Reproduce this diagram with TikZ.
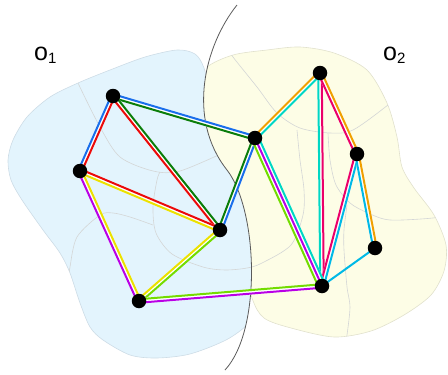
\documentclass[tikz,border=0pt]{standalone}
\usepackage{fontspec}
\setmainfont{Liberation Sans}
\usepackage{tikz}
\usetikzlibrary{calc}

\definecolor{eblue}{RGB}{25,110,235}
\definecolor{ered}{RGB}{235,10,10}
\definecolor{egreen}{RGB}{10,125,10}
\definecolor{eyellow}{RGB}{235,225,0}
\definecolor{eviolet}{RGB}{185,0,230}
\definecolor{elime}{RGB}{115,220,0}
\definecolor{eorange}{RGB}{240,160,0}
\definecolor{eturq}{RGB}{0,215,195}
\definecolor{ecrimson}{RGB}{235,0,105}
\definecolor{ecyan}{RGB}{0,185,230}
\definecolor{skyfill}{RGB}{227,244,253}
\definecolor{skyedge}{RGB}{205,220,230}
\definecolor{creamfill}{RGB}{253,253,230}
\definecolor{creamedge}{RGB}{225,225,205}
\definecolor{cellgrey}{RGB}{212,214,214}
\definecolor{divgrey}{RGB}{90,90,90}

\pgfdeclarelayer{back}
\pgfdeclarelayer{wires}
\pgfsetlayers{back,wires,main}

\tikzstyle{dot} = [circle, fill=black, inner sep=0pt, minimum size=14.5pt]
\tikzstyle{line} = [draw, line width=2pt]
\tikzstyle{gap} = [draw=white, line width=5.5pt]
\tikzstyle{cell} = [draw=cellgrey, line width=0.6pt]
\tikzstyle{divider} = [draw=divgrey, line width=0.8pt]
\tikzstyle{lbl} = [inner sep=0pt, anchor=base west, font=\fontsize{25}{30}\selectfont]
\tikzset{
  lside/.style={to path={($(\tikztostart)!#1!90:(\tikztotarget)$) -- ($(\tikztotarget)!#1!-90:(\tikztostart)$)}},
  rside/.style={to path={($(\tikztostart)!#1!-90:(\tikztotarget)$) -- ($(\tikztotarget)!#1!90:(\tikztostart)$)}},
  lside/.default=1.75pt, rside/.default=1.75pt
}

\begin{document}
\begin{tikzpicture}[x=1pt, y=-1pt]
    \useasboundingbox (0,0) rectangle (448,375);

    % the two objects
    \begin{pgfonlayer}{back}
        \begin{scope}[fill=skyfill, draw=skyedge, line width=0.6pt]
            \clip (237,5) .. controls (205,45) and (186,118) .. (227,170) .. controls (258,210) and (262,330) .. (225,370) -- (-5,380) -- (-5,-5) -- (237,-5) -- cycle;
            \path [fill, draw, clip] plot [smooth cycle] coordinates {(8,160) (13,140) (27,117) (50,97) (78,83) (110,70) (145,57) (177,50) (195,54) (204,68) (212,100) (235,150) (258,205) (265,265) (260,305) (248,324) (226,340) (190,354) (157,358) (130,355) (103,340) (90,327) (80,303) (70,273) (60,253) (43,230) (22,200) (11,180)};
            \path [cell] plot [smooth] coordinates {(74,72) (78,83) (100,127) (120,157) (153,171) (180,171) (225,152)};
            \path [cell] plot [smooth] coordinates {(297,130) (300,160) (304,190) (303,215) (291,245) (262,263) (247,268) (225,270) (203,267) (172,254) (156,233) (153,207) (157,180) (160,172)};
            \path [cell] plot [smooth] coordinates {(68,285) (70,267) (77,237) (100,215) (113,213) (130,217) (153,225)};
        \end{scope}
        \begin{scope}[fill=creamfill, draw=creamedge, line width=0.6pt]
            \clip (237,5) .. controls (205,45) and (186,118) .. (227,170) .. controls (258,210) and (262,330) .. (225,370) -- (453,380) -- (453,-5) -- (237,-5) -- cycle;
            \path [fill, draw, clip] plot [smooth cycle] coordinates {(196,92) (206,68) (233,55) (267,50) (300,47) (334,53) (367,70) (387,103) (397,137) (402,167) (414,188) (434,215) (446,245) (444,271) (431,295) (404,315) (371,331) (334,337) (291,328) (264,318) (252,298) (240,250) (218,190) (200,135)};
            \path [cell] plot [smooth] coordinates {(228,48) (233,57) (257,87) (277,113) (300,128) (330,133) (353,130) (388,105) (395,98)};
            \path [cell] plot [smooth] coordinates {(297,130) (300,160) (304,190) (303,215) (291,245) (262,263) (247,268) (225,270) (203,267)};
            \path [cell] plot [smooth] coordinates {(328,133) (330,160) (336,185) (350,203) (368,213) (390,220) (433,218) (450,214)};
            \path [cell] plot [smooth] coordinates {(347,205) (344,230) (344,250) (347,287) (350,307) (347,335) (345,345)};
        \end{scope}
        \path [divider] (237,5) .. controls (205,45) and (186,118) .. (227,170) .. controls (258,210) and (262,330) .. (225,370);
    \end{pgfonlayer}

    % vertices
    \node [dot] (A) at (113,96) {};
    \node [dot] (B) at (80,171) {};
    \node [dot] (C) at (220,230) {};
    \node [dot] (D) at (139,301) {};
    \node [dot] (E) at (255,138) {};
    \node [dot] (F) at (320,73) {};
    \node [dot] (G) at (357,154) {};
    \node [dot] (H) at (375,248) {};
    \node [dot] (I) at (322,286) {};

    \node [lbl] (o1) at (34,60) {o\raisebox{-3.5pt}{\fontsize{15}{18}\selectfont 1}};
    \node [lbl] (o2) at (383,60) {o\raisebox{-3.5pt}{\fontsize{15}{18}\selectfont 2}};

    % coloured edges
    \begin{pgfonlayer}{wires}
        \foreach \ea/\eb/\ca/\cb in {A/B/ered/eblue, A/E/eblue/egreen, A/C/egreen/ered, B/C/ered/eyellow, B/D/eyellow/eviolet, D/C/eyellow/elime, C/E/egreen/eblue, D/I/elime/eviolet, E/F/eorange/eturq, F/I/ecrimson/eturq, F/G/eorange/ecrimson, G/I/ecyan/ecrimson, G/H/eorange/ecyan}
        {
            \path [gap] (\ea.center) -- (\eb.center);
            \path [line, draw=\ca, lside] (\ea.center) to (\eb.center);
            \path [line, draw=\cb, rside] (\ea.center) to (\eb.center);
        }
        \path [gap, line width=9pt] (E.center) -- (I.center);
        \path [line, draw=eturq, lside=3.5pt] (E.center) to (I.center);
        \path [line, draw=eviolet] (E.center) -- (I.center);
        \path [line, draw=elime, rside=3.5pt] (E.center) to (I.center);
        \path [line, draw=ecyan] (H.center) -- (I.center);
    \end{pgfonlayer}
\end{tikzpicture}
\end{document}
